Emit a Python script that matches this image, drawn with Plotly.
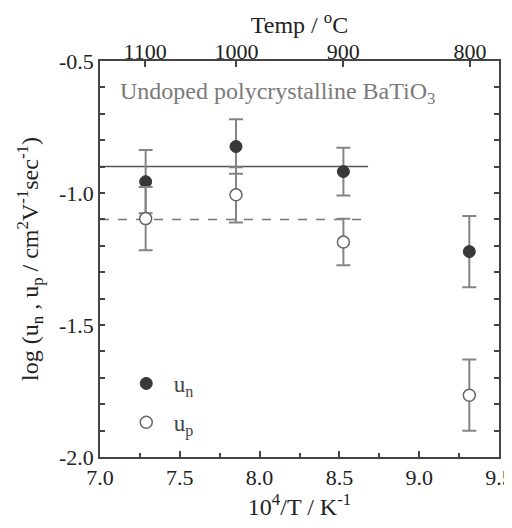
import plotly.graph_objects as go

# 10^4/T values and log mobilities
inv_t = [7.286, 7.852, 8.525, 9.314]
un = [-0.957, -0.824, -0.919, -1.222]
un_err = [0.12, 0.103, 0.09, 0.135]
up = [-1.097, -1.007, -1.186, -1.766]
up_err = [0.12, 0.105, 0.088, 0.135]

# average lines
avg_x = [7.0, 8.68]
avg_un = -0.90
avg_up = -1.10

temps_c = [1100, 1000, 900, 800]
temp_pos = [1e4 / (t + 273.15) for t in temps_c]

y_ticks = [round(-2.0 + 0.1 * i, 1) for i in range(16)]
y_text = ["%.1f" % v if abs(v * 2 - round(v * 2)) < 1e-9 else "" for v in y_ticks]

FONT = "Liberation Serif, Times New Roman, serif"

fig = go.Figure()

fig.add_trace(go.Scatter(
    x=avg_x, y=[avg_un, avg_un], mode="lines",
    line=dict(color="#555555", width=1.5), showlegend=False, hoverinfo="none"))
fig.add_trace(go.Scatter(
    x=avg_x, y=[avg_up, avg_up], mode="lines",
    line=dict(color="#777777", width=1.5, dash="dash"), showlegend=False, hoverinfo="none"))

fig.add_trace(go.Scatter(
    x=inv_t, y=un, mode="markers", name="u<sub>n</sub>", legendgroup="n",
    marker=dict(symbol="circle", size=12, color="#383838",
                line=dict(color="#383838", width=1)),
    error_y=dict(type="data", array=un_err, color="#858585", thickness=2, width=7)))
fig.add_trace(go.Scatter(
    x=inv_t, y=up, mode="markers", name="u<sub>p</sub>", legendgroup="p",
    marker=dict(symbol="circle", size=12, color="white",
                line=dict(color="#666666", width=1.5)),
    error_y=dict(type="data", array=up_err, color="#858585", thickness=2, width=7)))

# dummy trace to activate the top axis
fig.add_trace(go.Scatter(x=[7.0, 9.5], y=[None, None], xaxis="x2",
                         showlegend=False, hoverinfo="none"))

fig.add_annotation(
    x=0.045, y=0.92, xref="paper", yref="paper", xanchor="left", yanchor="middle",
    text="Undoped polycrystalline BaTiO<sub>3</sub>", showarrow=False,
    font=dict(family=FONT, size=24, color="#7a7a7a"))

# page body has an 8px margin, so the figure is 8px smaller
fig.update_layout(
    width=504, height=520,
    margin=dict(l=92, r=13, t=53, b=71),
    paper_bgcolor="white", plot_bgcolor="white",
    font=dict(family=FONT, size=22, color="#222222"),
    xaxis=dict(
        range=[7.0, 9.5], tickvals=[7.0, 7.5, 8.0, 8.5, 9.0, 9.5],
        ticktext=["7.0", "7.5", "8.0", "8.5", "9.0", "9.5"],
        ticks="inside", ticklen=6, tickwidth=1.5, tickcolor="#444",
        minor=dict(tickvals=[7.25, 7.75, 8.25, 8.75, 9.25], ticks="inside",
                   ticklen=4, tickwidth=1.5, tickcolor="#444"),
        showline=True, linecolor="#444", linewidth=1.5, mirror=True,
        showgrid=False, zeroline=False, automargin=False,
        ticklabeloverflow="allow",
        title=dict(text="10<sup>4</sup>/T / K<sup>-1</sup>", font=dict(size=24), standoff=8)),
    xaxis2=dict(
        range=[7.0, 9.5], overlaying="x", side="top",
        tickvals=temp_pos, ticktext=[str(t) for t in temps_c],
        ticks="inside", ticklen=6, tickwidth=1.5, tickcolor="#444",
        showgrid=False, zeroline=False, showline=False, automargin=False,
        ticklabeloverflow="allow", ticklabelstandoff=-3,
        title=dict(text="Temp / <sup>o</sup>C", font=dict(size=24), standoff=15)),
    yaxis=dict(
        range=[-2.0, -0.5], tickvals=y_ticks, ticktext=y_text,
        ticks="inside", ticklen=5, tickwidth=1.5, tickcolor="#444",
        showline=True, linecolor="#444", linewidth=1.5, mirror="ticks",
        showgrid=False, zeroline=False, automargin=False,
        title=dict(text="log (u<sub>n</sub> , u<sub>p</sub> / cm<sup>2</sup>V<sup>-1</sup>sec<sup>-1</sup>)",
                   font=dict(size=24), standoff=14)),
    legend=dict(x=0.047, y=0.24, xanchor="left", yanchor="top",
                bgcolor="rgba(0,0,0,0)", font=dict(size=23, color="#444"),
                tracegroupgap=6, itemwidth=45),
)

fig.write_html("out.html")
